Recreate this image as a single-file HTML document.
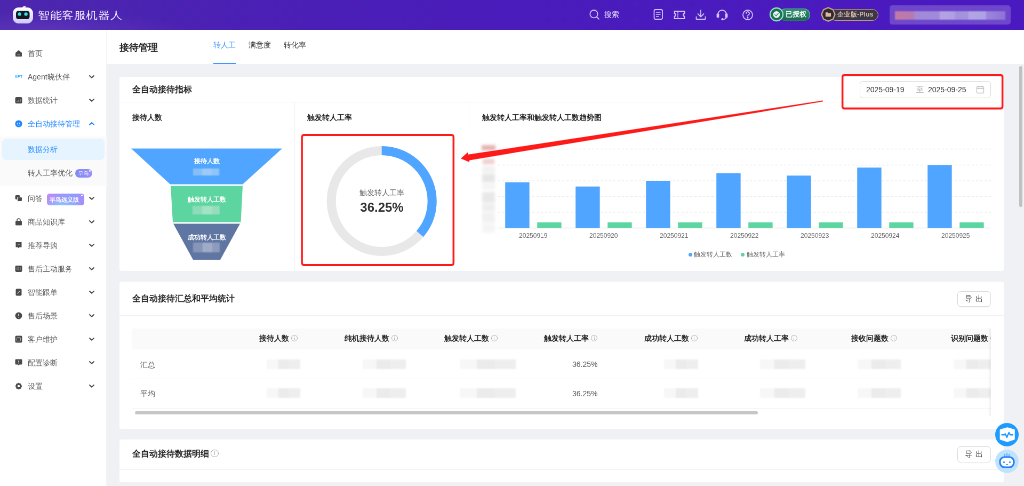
<!DOCTYPE html>
<html><head><meta charset="utf-8">
<style>
*{box-sizing:border-box;margin:0;padding:0}
html,body{width:1024px;height:486px;overflow:hidden;background:#f0f1f5;font-family:"Liberation Sans",sans-serif}
#root{position:absolute;left:0;top:0;width:1920px;height:912px;transform:scale(0.533333);transform-origin:0 0;background:#f0f1f5;overflow:hidden;will-change:transform}
.abs{position:absolute}
.hdr{left:0;top:0;width:1920px;height:56px;background:radial-gradient(ellipse 260px 36px at 90px 58px,rgba(130,90,210,0.28),rgba(130,90,210,0) 100%),linear-gradient(90deg,#4c27ad 0%,#4a20b5 25%,#4a1cbb 50%,#4a19c0 100%)}
.side{left:0;top:56px;width:200px;height:856px;background:#fff;border-right:1.5px solid #f3f4f7}
.sub{left:200px;top:56px;width:1720px;height:64px;background:#fff}
.card{background:#fff;border-radius:4px}
.mi{position:absolute;left:0;width:200px;height:40px;font-size:14px;color:#595959;line-height:40px}
.mi .tx{position:absolute;left:52px;top:0;white-space:nowrap}
.mi .ic{position:absolute;left:28px;top:13px;width:14px;height:14px;background:#555;border-radius:3px}
.mi .chev{position:absolute;left:166px;top:15px;width:8px;height:8px;border-right:2px solid #666;border-bottom:2px solid #666;transform:rotate(45deg)}
.mtx{position:absolute;font-size:14px;line-height:40px;white-space:nowrap}
.badge{background:linear-gradient(90deg,#7b8cff,#b07cf5);color:#fff;border-radius:7px;text-align:center;white-space:nowrap;font-weight:bold}
.btn{border:1px solid #d9d9d9;border-radius:6px;background:#fff;font-size:14px;color:#262626;font-weight:500;letter-spacing:1px;text-align:center;line-height:26px;box-shadow:0 2px 0 rgba(0,0,0,0.02)}
.th{font-size:14px;line-height:22px;color:#262626;font-weight:bold;text-align:right;white-space:nowrap}
.info{display:inline-block;position:relative;width:12px;height:12px;border:1.1px solid #b0b0b0;border-radius:50%;margin-left:4px;vertical-align:-1px}
.info:before{content:"";position:absolute;left:50%;margin-left:-0.6px;top:18%;width:1.2px;height:1.2px;background:#b0b0b0}
.info:after{content:"";position:absolute;left:50%;margin-left:-0.6px;top:38%;width:1.2px;height:40%;background:#b0b0b0}
.mos{position:absolute;height:18px;filter:blur(1.5px)}
.mos i{position:absolute;top:0;height:18px}
.plus{position:absolute;right:3px;top:2px;width:3px;height:3px;background:#fff;border-radius:50%}
.t16{font-size:16px;font-weight:bold;color:#262626}
.t14b{font-size:14px;font-weight:bold;color:#262626}
</style></head><body>
<div id="root">
  <!-- header -->
  <div class="abs hdr">
    <svg class="abs" style="left:0;top:0" width="240" height="56" viewBox="0 0 240 56">
      <defs><linearGradient id="lg1" x1="0" y1="0" x2="0" y2="1"><stop offset="0" stop-color="#ffffff"/><stop offset="1" stop-color="#cfc8ff"/></linearGradient></defs>
      <path d="M41 14.5 Q45 9.5 49 12 Q47 13.5 47 15 Z" fill="#ffe8ee"/>
      <rect x="24" y="14" width="38" height="30" rx="11" fill="url(#lg1)"/>
      <rect x="30" y="20.5" width="25.5" height="15.5" rx="4.5" fill="#17171f"/>
      <circle cx="36.6" cy="26.4" r="3.2" fill="#2ee6e6"/>
      <circle cx="48.6" cy="26.4" r="3.2" fill="#2ee6e6"/>
    </svg>
    <div class="abs" style="left:71px;top:13px;font-size:22px;line-height:30px;color:#f1ecff;letter-spacing:0.6px;white-space:nowrap;font-weight:300;transform:scaleY(0.86);transform-origin:0 25px">智能客服机器人</div>
    <svg class="abs" style="left:1100px;top:14px" width="320" height="30" viewBox="1100 14 320 30" fill="none" stroke="#d2c4f7" stroke-width="1.8" stroke-linecap="round" stroke-linejoin="round">
      <circle cx="1113.5" cy="26.2" r="7.2"/>
      <path d="M1118.8 31.5 L1123 35.8"/>
      <rect x="1226.5" y="18" width="15.5" height="18" rx="2.5"/>
      <path d="M1230.5 23 H1238 M1230.5 27 H1238 M1230.5 31 H1235" stroke-width="1.5"/>
      <path d="M1264.5 21 H1283.5 V25.5 A2.5 2.5 0 0 0 1283.5 30.5 V35 H1264.5 V30.5 A2.5 2.5 0 0 0 1264.5 25.5 Z"/>
      <path d="M1271 22.5 V33.5" stroke-width="1.5" stroke-dasharray="2 1.5"/>
      <path d="M1314 19 V31 M1308.5 26 L1314 31.5 L1319.5 26 M1305.5 31.5 V36 H1322.5 V31.5"/>
      <path d="M1346 31 V27 A8 8 0 0 1 1362 27 V31 M1344.5 26.5 H1347.5 V32 H1344.5 Z M1360.5 26.5 H1363.5 V32 H1360.5 Z M1362 32 Q1362 36 1355 36.2" />
      <circle cx="1354.5" cy="36.2" r="1.2" fill="#d2c4f7"/>
      <circle cx="1402" cy="28" r="9"/>
      <path d="M1399 25 A3 3 0 1 1 1403 28 Q1402 28.7 1402 30.5"/>
      <circle cx="1402" cy="33.2" r="0.6" fill="#d2c4f7"/>
    </svg>
    <div class="abs" style="left:1133px;top:17px;font-size:14px;line-height:20px;color:#eee8ff;font-weight:500">搜索</div>
    <!-- licensed badge -->
    <div class="abs" style="left:1461px;top:15.5px;width:58px;height:23px;border-radius:12px;background:linear-gradient(180deg,#2f8f70,#1c6650);border:1.5px solid #5fc59c;border-bottom-color:#2a7d62"></div>
    <svg class="abs" style="left:1442px;top:13px" width="28" height="28" viewBox="0 0 28 28">
      <circle cx="14" cy="14" r="12" fill="#1f6e56" stroke="#8fe3bf" stroke-width="2.4"/>
      <circle cx="14" cy="14.3" r="6.3" fill="#e6f5ee"/>
      <path d="M10.8 14.5 L13.2 16.6 L17.3 12.2" fill="none" stroke="#2f8f70" stroke-width="1.6" stroke-linecap="round"/>
    </svg>
    <div class="abs" style="left:1473px;top:17px;font-size:12.5px;line-height:20px;color:#f2fff8;font-weight:bold;white-space:nowrap">已授权</div>
    <!-- enterprise badge -->
    <div class="abs" style="left:1556px;top:16.5px;width:91px;height:22px;border-radius:11px;background:#3a3746;border:1.5px solid #c79a7e"></div>
    <svg class="abs" style="left:1539px;top:13px" width="28" height="28" viewBox="0 0 30 30">
      <path d="M15 1.5 L24.5 5.5 L28.5 15 L24.5 24.5 L15 28.5 L5.5 24.5 L1.5 15 L5.5 5.5 Z" fill="#2c2a33" stroke="#caa084" stroke-width="2.6"/>
      <path d="M9.5 11 H14 L15 12.2 H20.5 V19.5 H9.5 Z" fill="#e4b79d"/>
    </svg>
    <div class="abs" style="left:1570px;top:17px;font-size:12px;line-height:20px;color:#d9b9a2;font-weight:bold;white-space:nowrap;letter-spacing:0.3px">企业版-Plus</div>
    <!-- user -->
    <div class="abs" style="left:1668px;top:10px;width:227px;height:35.5px;border-radius:5px;background:rgba(255,255,255,0.2)"></div>
    <div class="abs" style="left:1678px;top:20.5px;width:207px;height:16px;background:linear-gradient(90deg,#c17aa6 0%,#b47ab0 17%,#a48ad8 18%,#a08adb 40%,#b5a3e3 41%,#ae9fe3 54%,#a491dc 55%,#a393dd 66%,#b0a6e6 67%,#aca2e5 82%,#9b86db 83%,#8d73d6 100%);filter:blur(1.2px)"></div>
  </div>
  <!-- sidebar -->
  <div class="abs side"></div>
  <div class="abs" style="left:0;top:256px;width:200px;height:92px;background:#fafafa"></div>
  <div class="abs" style="left:4px;top:260px;width:192px;height:40px;border-radius:8px;background:#e6f4ff"></div>
  <svg class="abs" style="left:28px;top:93px" width="14" height="14" viewBox="0 0 14 14"><path d="M1 6 L7 1 L13 6 V12 Q13 13 12 13 H2 Q1 13 1 12 Z" fill="#4a4a4a"/><rect x="4.5" y="9" width="5" height="1.6" fill="#8a8a8a"/></svg>
  <div class="abs mtx" style="left:52px;top:80px;color:#595959">首页</div>
  <svg class="abs" style="left:28px;top:137px" width="14" height="14" viewBox="0 0 14 14"><text x="-0.5" y="9.5" font-size="7.5" font-weight="bold" fill="#20a8ff" font-family="Liberation Sans" letter-spacing="0.2">XPT</text></svg>
  <div class="abs mtx" style="left:52px;top:124px;color:#595959">Agent晓伙伴</div>
  <svg class="abs" style="left:166px;top:140px" width="12" height="8" viewBox="0 0 12 8"><path d="M2 2 L6 5.8 L10 2" fill="none" stroke="#4a4a4a" stroke-width="2" stroke-linecap="round" stroke-linejoin="round"/></svg>
  <svg class="abs" style="left:28px;top:181px" width="14" height="14" viewBox="0 0 14 14"><rect x="0.5" y="1" width="13" height="12" rx="2.5" fill="#4a4a4a"/><path d="M4 10 V8 M7 10 V6.5 M10 10 V5" stroke="#9a9a9a" stroke-width="1.3"/></svg>
  <div class="abs mtx" style="left:52px;top:168px;color:#595959">数据统计</div>
  <svg class="abs" style="left:166px;top:184px" width="12" height="8" viewBox="0 0 12 8"><path d="M2 2 L6 5.8 L10 2" fill="none" stroke="#4a4a4a" stroke-width="2" stroke-linecap="round" stroke-linejoin="round"/></svg>
  <svg class="abs" style="left:28px;top:225px" width="14" height="14" viewBox="0 0 14 14"><circle cx="7" cy="7" r="6.6" fill="#1f86ff"/><circle cx="5" cy="6" r="1" fill="#fff"/><circle cx="9" cy="6" r="1" fill="#fff"/><path d="M4.5 9 Q7 10.8 9.5 9" stroke="#fff" stroke-width="1" fill="none"/></svg>
  <div class="abs mtx" style="left:52px;top:212px;color:#1f86ff">全自动接待管理</div>
  <svg class="abs" style="left:166px;top:228px" width="12" height="8" viewBox="0 0 12 8"><path d="M2 5.8 L6 2 L10 5.8" fill="none" stroke="#1f86ff" stroke-width="2" stroke-linecap="round" stroke-linejoin="round"/></svg>
  <svg class="abs" style="left:28px;top:365px" width="14" height="14" viewBox="0 0 14 14"><rect x="0.5" y="1" width="9" height="8" rx="2" fill="#4a4a4a"/><rect x="4.5" y="4.5" width="9" height="8" rx="2" fill="#4a4a4a" stroke="#fff" stroke-width="1"/></svg>
  <div class="abs mtx" style="left:52px;top:352px;color:#595959">问答</div>
  <svg class="abs" style="left:166px;top:368px" width="12" height="8" viewBox="0 0 12 8"><path d="M2 2 L6 5.8 L10 2" fill="none" stroke="#4a4a4a" stroke-width="2" stroke-linecap="round" stroke-linejoin="round"/></svg>
  <svg class="abs" style="left:28px;top:409px" width="14" height="14" viewBox="0 0 14 14"><rect x="1" y="5" width="12" height="8.5" rx="1.5" fill="#4a4a4a"/><path d="M4 6 V4 A3 3 0 0 1 10 4 V6" stroke="#4a4a4a" stroke-width="1.6" fill="none"/></svg>
  <div class="abs mtx" style="left:52px;top:396px;color:#595959">商品知识库</div>
  <svg class="abs" style="left:166px;top:412px" width="12" height="8" viewBox="0 0 12 8"><path d="M2 2 L6 5.8 L10 2" fill="none" stroke="#4a4a4a" stroke-width="2" stroke-linecap="round" stroke-linejoin="round"/></svg>
  <svg class="abs" style="left:28px;top:453px" width="14" height="14" viewBox="0 0 14 14"><path d="M1.5 1 H12.5 V10.5 H8.5 L7 12.5 L5.5 10.5 H1.5 Z" fill="#4a4a4a"/><path d="M4.5 4.5 Q7 7.5 9.5 4.5" stroke="#aaa" stroke-width="1" fill="none"/></svg>
  <div class="abs mtx" style="left:52px;top:440px;color:#595959">推荐导购</div>
  <svg class="abs" style="left:166px;top:456px" width="12" height="8" viewBox="0 0 12 8"><path d="M2 2 L6 5.8 L10 2" fill="none" stroke="#4a4a4a" stroke-width="2" stroke-linecap="round" stroke-linejoin="round"/></svg>
  <svg class="abs" style="left:28px;top:497px" width="14" height="14" viewBox="0 0 14 14"><rect x="0.5" y="1" width="13" height="12" rx="2" fill="#4a4a4a"/><path d="M4 4 V10 M7 4 V10 M10 4 V10" stroke="#9a9a9a" stroke-width="1"/></svg>
  <div class="abs mtx" style="left:52px;top:484px;color:#595959">售后主动服务</div>
  <svg class="abs" style="left:166px;top:500px" width="12" height="8" viewBox="0 0 12 8"><path d="M2 2 L6 5.8 L10 2" fill="none" stroke="#4a4a4a" stroke-width="2" stroke-linecap="round" stroke-linejoin="round"/></svg>
  <svg class="abs" style="left:28px;top:541px" width="14" height="14" viewBox="0 0 14 14"><rect x="1.5" y="0.5" width="11" height="13" rx="2" fill="#4a4a4a"/><path d="M4.5 9.5 L9.5 4.5" stroke="#bbb" stroke-width="1.4"/></svg>
  <div class="abs mtx" style="left:52px;top:528px;color:#595959">智能跟单</div>
  <svg class="abs" style="left:166px;top:544px" width="12" height="8" viewBox="0 0 12 8"><path d="M2 2 L6 5.8 L10 2" fill="none" stroke="#4a4a4a" stroke-width="2" stroke-linecap="round" stroke-linejoin="round"/></svg>
  <svg class="abs" style="left:28px;top:585px" width="14" height="14" viewBox="0 0 14 14"><circle cx="7" cy="7" r="6.5" fill="#4a4a4a"/><path d="M7 3.5 V8 M7 9.5 V10.5" stroke="#ddd" stroke-width="1.6"/></svg>
  <div class="abs mtx" style="left:52px;top:572px;color:#595959">售后场景</div>
  <svg class="abs" style="left:166px;top:588px" width="12" height="8" viewBox="0 0 12 8"><path d="M2 2 L6 5.8 L10 2" fill="none" stroke="#4a4a4a" stroke-width="2" stroke-linecap="round" stroke-linejoin="round"/></svg>
  <svg class="abs" style="left:28px;top:629px" width="14" height="14" viewBox="0 0 14 14"><rect x="0.5" y="0.5" width="13" height="13" rx="2" fill="#4a4a4a"/><rect x="3.5" y="3.5" width="7" height="7" rx="1.5" fill="none" stroke="#aaa" stroke-width="1"/></svg>
  <div class="abs mtx" style="left:52px;top:616px;color:#595959">客户维护</div>
  <svg class="abs" style="left:166px;top:632px" width="12" height="8" viewBox="0 0 12 8"><path d="M2 2 L6 5.8 L10 2" fill="none" stroke="#4a4a4a" stroke-width="2" stroke-linecap="round" stroke-linejoin="round"/></svg>
  <svg class="abs" style="left:28px;top:673px" width="14" height="14" viewBox="0 0 14 14"><path d="M0.5 2 Q0.5 0.5 2 0.5 H12 Q13.5 0.5 13.5 2 V9 Q13.5 10.5 12 10.5 H8.5 L7 12.5 L5.5 10.5 H2 Q0.5 10.5 0.5 9 Z" fill="#4a4a4a"/><path d="M7 3 V6.5 M7 7.8 V8.6" stroke="#ddd" stroke-width="1.5"/></svg>
  <div class="abs mtx" style="left:52px;top:660px;color:#595959">配置诊断</div>
  <svg class="abs" style="left:166px;top:676px" width="12" height="8" viewBox="0 0 12 8"><path d="M2 2 L6 5.8 L10 2" fill="none" stroke="#4a4a4a" stroke-width="2" stroke-linecap="round" stroke-linejoin="round"/></svg>
  <svg class="abs" style="left:28px;top:717px" width="14" height="14" viewBox="0 0 14 14"><path d="M7 0.5 L9 2 L11.6 2.4 L12 5 L13.5 7 L12 9 L11.6 11.6 L9 12 L7 13.5 L5 12 L2.4 11.6 L2 9 L0.5 7 L2 5 L2.4 2.4 L5 2 Z" fill="#4a4a4a"/><circle cx="7" cy="7" r="2.3" fill="#fff"/></svg>
  <div class="abs mtx" style="left:52px;top:704px;color:#595959">设置</div>
  <svg class="abs" style="left:166px;top:720px" width="12" height="8" viewBox="0 0 12 8"><path d="M2 2 L6 5.8 L10 2" fill="none" stroke="#4a4a4a" stroke-width="2" stroke-linecap="round" stroke-linejoin="round"/></svg>
  <div class="abs mtx" style="left:52px;top:260px;color:#1f86ff">数据分析</div>
  <div class="abs mtx" style="left:52px;top:304px;color:#595959">转人工率优化</div>
  <div class="abs badge" style="left:140.5px;top:317px;width:32px;height:16px;font-size:8.5px;line-height:16px;border-radius:8px;background:linear-gradient(90deg,#7d8bf6,#9d8ef7);font-weight:normal;letter-spacing:0.5px">早鸟<i class="plus"></i></div>
  <div class="abs badge" style="left:88px;top:363px;width:70px;height:22px;font-size:11px;line-height:22px;border-radius:5px;background:radial-gradient(ellipse 40px 14px at 28px 22px,rgba(140,200,255,0.9),rgba(140,200,255,0)),linear-gradient(100deg,#c08af6 0%,#9a98fb 40%,#8f9cfb 65%,#a98cf6 100%);font-weight:bold;padding-right:6px">早鸟远义版<i class="plus"></i></div>
  <!-- subheader -->
  <div class="abs sub"></div>
  <div class="abs" style="left:224px;top:77px;font-size:18px;font-weight:bold;color:#262626;line-height:24px">接待管理</div>
  <div class="abs" style="left:400px;top:73px;font-size:14px;color:#4096ff;line-height:22px">转人工</div>
  <div class="abs" style="left:466px;top:73px;font-size:14px;color:#333;line-height:22px">满意度</div>
  <div class="abs" style="left:532px;top:73px;font-size:14px;color:#333;line-height:22px">转化率</div>
  <div class="abs" style="left:400px;top:118px;width:42px;height:2px;background:#4096ff"></div>

  <!-- card 1 -->
  <div class="abs card" style="left:224px;top:144px;width:1658px;height:364px"></div>
  <div class="abs" style="left:224px;top:191px;width:1658px;height:1px;background:#f0f0f0"></div>
  <div class="abs t16" style="left:248px;top:157px;line-height:22px">全自动接待指标</div>

  <!-- card1 content -->
  <div class="abs" style="left:1612px;top:152px;width:246px;height:32px;border:1px solid #d9d9d9;border-radius:6px;background:#fff"></div>
  <div class="abs" style="left:1624px;top:157px;font-size:14px;line-height:22px;color:#333;white-space:nowrap">2025-09-19</div>
  <div class="abs" style="left:1718px;top:157px;font-size:14px;line-height:22px;color:#aaa;white-space:nowrap">至</div>
  <div class="abs" style="left:1740px;top:157px;font-size:14px;line-height:22px;color:#333;white-space:nowrap">2025-09-25</div>
  <svg class="abs" style="left:1830px;top:160px" width="16" height="16" viewBox="0 0 16 16" fill="none" stroke="#bfbfbf" stroke-width="1.3"><rect x="1.5" y="2.5" width="13" height="12" rx="1"/><path d="M1.5 6 H14.5 M5 1 V4 M11 1 V4"/></svg>
  <div class="abs" style="left:552px;top:192px;width:1px;height:316px;background:#f0f0f0"></div>
  <div class="abs" style="left:879px;top:192px;width:1px;height:56px;background:#f0f0f0"></div>
  <div class="abs t14b" style="left:248px;top:209px;line-height:22px">接待人数</div>
  <div class="abs t14b" style="left:576px;top:209px;line-height:22px">触发转人工率</div>
  <div class="abs t14b" style="left:904px;top:209px;line-height:22px">触发转人工率和触发转人工数趋势图</div>
  <!-- funnel -->
  <svg class="abs" style="left:0;top:0" width="900" height="512" viewBox="0 0 900 512">
    <defs><filter id="bl" x="-50%" y="-50%" width="200%" height="200%"><feGaussianBlur stdDeviation="1.2"/></filter></defs>
    <path d="M246 278.5 H529 L455 345.5 H319 Z" fill="#4fa5ff"/>
    <path d="M320 348.5 H455 L451.5 416.5 H324 Z" fill="#5cd5a0"/>
    <path d="M325 419.5 H450 L413 487 H362 Z" fill="#5f76a3"/>
    <g filter="url(#bl)">
      <rect x="362" y="316" width="17" height="13" fill="#86bff8"/>
      <rect x="379" y="316" width="18" height="13" fill="#9ccbf8"/>
      <rect x="397" y="316" width="14" height="13" fill="#8fc4f8"/>
      <rect x="361" y="386" width="18" height="16" fill="#8ddbb8"/>
      <rect x="379" y="386" width="19" height="16" fill="#a3e2c5"/>
      <rect x="398" y="386" width="14" height="16" fill="#95ddbc"/>
      <rect x="362" y="455" width="18" height="18" fill="#8796b8"/>
      <rect x="380" y="455" width="18" height="18" fill="#a0abc8"/>
      <rect x="398" y="455" width="14" height="18" fill="#8e9bbb"/>
    </g>
    <!-- donut -->
    <circle cx="715.7" cy="377" r="94.5" fill="none" stroke="#e8e8e8" stroke-width="17"/>
    <circle cx="715.7" cy="377" r="94.5" fill="none" stroke="#4fa5ff" stroke-width="17" stroke-dasharray="215.2 1000" transform="rotate(-90 715.7 377)"/>
  </svg>
  <div class="abs" style="left:300px;top:292px;width:175px;text-align:center;font-size:12px;line-height:20px;color:#fff;font-weight:bold">接待人数</div>
  <div class="abs" style="left:300px;top:364px;width:175px;text-align:center;font-size:12px;line-height:20px;color:#fff;font-weight:bold">触发转人工数</div>
  <div class="abs" style="left:300px;top:435px;width:175px;text-align:center;font-size:12px;line-height:20px;color:#fff;font-weight:bold">成功转人工数</div>
  <div class="abs" style="left:616px;top:350px;width:200px;text-align:center;font-size:14px;line-height:22px;color:#666">触发转人工率</div>
  <div class="abs" style="left:616px;top:373px;width:200px;text-align:center;font-size:24px;line-height:32px;color:#333;font-weight:bold">36.25%</div>
  <!-- bar chart -->
  <svg class="abs" style="left:880px;top:240px" width="1000" height="260" viewBox="880 240 1000 260">
    <defs><filter id="bl2" x="-50%" y="-50%" width="200%" height="200%"><feGaussianBlur stdDeviation="2.5"/></filter></defs>
    <g stroke="#ebebeb" stroke-width="1.3" stroke-dasharray="4 4">
      <path d="M934 279.5 H1858 M934 309.5 H1858 M934 339 H1858 M934 368.5 H1858 M934 398 H1858"/>
    </g>
    <path d="M934 427.5 H1858" stroke="#e6e6e6" stroke-width="1.5"/>
    <g filter="url(#bl2)">
      <rect x="903" y="272" width="26" height="10" fill="#e3b3b3"/>
      <rect x="905" y="298" width="22" height="10" fill="#f0d0d0"/>
      <rect x="904" y="312" width="24" height="12" fill="#f1f1f1"/>
      <rect x="904" y="326" width="24" height="16" fill="#e6e6e6"/>
      <rect x="904" y="344" width="24" height="12" fill="#f4f4f4"/>
      <rect x="904" y="360" width="24" height="20" fill="#e8e8e8"/>
      <rect x="904" y="382" width="24" height="14" fill="#eeeeee"/>
      <rect x="904" y="398" width="24" height="20" fill="#f1f1f1"/>
      <rect x="904" y="420" width="24" height="16" fill="#f4f4f4"/>
    </g>
    <rect x="947.25" y="341.8" width="45.4" height="85.70" fill="#4fa5ff"/>
    <rect x="1007.25" y="417" width="45.4" height="10.5" fill="#5cd5a0"/>
    <rect x="1079.25" y="349.7" width="45.4" height="77.80" fill="#4fa5ff"/>
    <rect x="1139.25" y="417" width="45.4" height="10.5" fill="#5cd5a0"/>
    <rect x="1211.25" y="339" width="45.4" height="88.50" fill="#4fa5ff"/>
    <rect x="1271.25" y="417" width="45.4" height="10.5" fill="#5cd5a0"/>
    <rect x="1343.25" y="324.75" width="45.4" height="102.75" fill="#4fa5ff"/>
    <rect x="1403.25" y="417" width="45.4" height="10.5" fill="#5cd5a0"/>
    <rect x="1475.25" y="329.25" width="45.4" height="98.25" fill="#4fa5ff"/>
    <rect x="1535.25" y="417" width="45.4" height="10.5" fill="#5cd5a0"/>
    <rect x="1607.25" y="314.25" width="45.4" height="113.25" fill="#4fa5ff"/>
    <rect x="1667.25" y="417" width="45.4" height="10.5" fill="#5cd5a0"/>
    <rect x="1739.25" y="309.4" width="45.4" height="118.10" fill="#4fa5ff"/>
    <rect x="1799.25" y="417" width="45.4" height="10.5" fill="#5cd5a0"/>
  </svg>
  <div class="abs" style="left:939.75px;top:431.5px;width:120px;text-align:center;font-size:12px;line-height:20px;color:#666">20250919</div>
  <div class="abs" style="left:1071.75px;top:431.5px;width:120px;text-align:center;font-size:12px;line-height:20px;color:#666">20250920</div>
  <div class="abs" style="left:1203.75px;top:431.5px;width:120px;text-align:center;font-size:12px;line-height:20px;color:#666">20250921</div>
  <div class="abs" style="left:1335.75px;top:431.5px;width:120px;text-align:center;font-size:12px;line-height:20px;color:#666">20250922</div>
  <div class="abs" style="left:1467.75px;top:431.5px;width:120px;text-align:center;font-size:12px;line-height:20px;color:#666">20250923</div>
  <div class="abs" style="left:1599.75px;top:431.5px;width:120px;text-align:center;font-size:12px;line-height:20px;color:#666">20250924</div>
  <div class="abs" style="left:1731.75px;top:431.5px;width:120px;text-align:center;font-size:12px;line-height:20px;color:#666">20250925</div>
  <div class="abs" style="left:1290.5px;top:473.5px;width:7px;height:7px;border-radius:50%;background:#4fa5ff"></div>
  <div class="abs" style="left:1301px;top:467px;font-size:12px;line-height:20px;color:#666;white-space:nowrap">触发转人工数</div>
  <div class="abs" style="left:1389px;top:473.5px;width:7px;height:7px;border-radius:50%;background:#5cd5a0"></div>
  <div class="abs" style="left:1400px;top:467px;font-size:12px;line-height:20px;color:#666;white-space:nowrap">触发转人工率</div>

  <!-- card 2 -->
  <div class="abs card" style="left:224px;top:528px;width:1658px;height:276px"></div>
  <div class="abs" style="left:224px;top:591px;width:1658px;height:1px;background:#f0f0f0"></div>
  <div class="abs t16" style="left:248px;top:549px;line-height:22px">全自动接待汇总和平均统计</div>

  <!-- card2 content -->
  <div class="abs btn" style="left:1795px;top:546px;width:63px;height:28.5px">导 出</div>
  <div class="abs" style="left:248px;top:616px;width:1610px;height:39px;background:#fafafa"></div>
  <div class="abs" style="left:248px;top:710px;width:1610px;height:1px;background:#f0f0f0"></div>
  <div class="abs" style="left:248px;top:765px;width:1610px;height:1px;background:#f0f0f0"></div>
  <div class="abs" style="left:263px;top:672.5px;font-size:14px;line-height:22px;color:#595959">汇总</div>
  <div class="abs" style="left:263px;top:727px;font-size:14px;line-height:22px;color:#595959">平均</div>
  <div class="abs" style="left:253px;top:771px;width:1168px;height:6px;border-radius:3px;background:#c6c6c6"></div>
  <div class="abs" style="left:248px;top:616px;width:1610px;height:150px;overflow:hidden">
    <div class="abs th" style="top:7px;left:10.3px;width:300px">接待人数<span class="info"></span></div>
    <div class="abs th" style="top:7px;left:197.6px;width:300px">纯机接待人数<span class="info"></span></div>
    <div class="abs th" style="top:7px;left:384.9px;width:300px">触发转人工数<span class="info"></span></div>
    <div class="abs th" style="top:7px;left:572.2px;width:300px">触发转人工率<span class="info"></span></div>
    <div class="abs th" style="top:7px;left:759.5px;width:300px">成功转人工数<span class="info"></span></div>
    <div class="abs th" style="top:7px;left:946.8px;width:300px">成功转人工率<span class="info"></span></div>
    <div class="abs th" style="top:7px;left:1134.1px;width:300px">接收问题数<span class="info"></span></div>
    <div class="abs th" style="top:7px;left:1321.4px;width:300px">识别问题数<span class="info"></span></div>
    <div class="abs mos" style="left:252px;top:58px;width:71px"><i style="left:0;width:22px;background:#f7f7f7"></i><i style="left:22px;width:19px;background:#ebebeb"></i><i style="left:41px;width:22px;background:#eeeeee"></i></div>
    <div class="abs mos" style="left:252px;top:112px;width:71px"><i style="left:0;width:22px;background:#f7f7f7"></i><i style="left:22px;width:19px;background:#ebebeb"></i><i style="left:41px;width:22px;background:#eeeeee"></i></div>
    <div class="abs mos" style="left:432px;top:58px;width:89px"><i style="left:0;width:26px;background:#f7f7f7"></i><i style="left:26px;width:26px;background:#ebebeb"></i><i style="left:52px;width:29px;background:#eeeeee"></i></div>
    <div class="abs mos" style="left:432px;top:112px;width:89px"><i style="left:0;width:26px;background:#f7f7f7"></i><i style="left:26px;width:26px;background:#ebebeb"></i><i style="left:52px;width:29px;background:#eeeeee"></i></div>
    <div class="abs mos" style="left:614px;top:58px;width:113px"><i style="left:0;width:32px;background:#f7f7f7"></i><i style="left:32px;width:34px;background:#ebebeb"></i><i style="left:66px;width:39px;background:#eeeeee"></i></div>
    <div class="abs mos" style="left:614px;top:112px;width:113px"><i style="left:0;width:32px;background:#f7f7f7"></i><i style="left:32px;width:34px;background:#ebebeb"></i><i style="left:66px;width:39px;background:#eeeeee"></i></div>
    <div class="abs" style="left:572.5px;top:56px;width:300px;text-align:right;font-size:14px;line-height:22px;color:#595959">36.25%</div>
    <div class="abs" style="left:572.5px;top:110.5px;width:300px;text-align:right;font-size:14px;line-height:22px;color:#595959">36.25%</div>
    <div class="abs mos" style="left:997px;top:58px;width:72px"><i style="left:0;width:22px;background:#f7f7f7"></i><i style="left:22px;width:20px;background:#ebebeb"></i><i style="left:42px;width:22px;background:#eeeeee"></i></div>
    <div class="abs mos" style="left:997px;top:112px;width:72px"><i style="left:0;width:22px;background:#f7f7f7"></i><i style="left:22px;width:20px;background:#ebebeb"></i><i style="left:42px;width:22px;background:#eeeeee"></i></div>
    <div class="abs mos" style="left:1177px;top:58px;width:93px"><i style="left:0;width:27px;background:#f7f7f7"></i><i style="left:27px;width:27px;background:#ebebeb"></i><i style="left:54px;width:31px;background:#eeeeee"></i></div>
    <div class="abs mos" style="left:1177px;top:112px;width:93px"><i style="left:0;width:27px;background:#f7f7f7"></i><i style="left:27px;width:27px;background:#ebebeb"></i><i style="left:54px;width:31px;background:#eeeeee"></i></div>
    <div class="abs mos" style="left:1360px;top:58px;width:89px"><i style="left:0;width:26px;background:#f7f7f7"></i><i style="left:26px;width:26px;background:#ebebeb"></i><i style="left:52px;width:29px;background:#eeeeee"></i></div>
    <div class="abs mos" style="left:1360px;top:112px;width:89px"><i style="left:0;width:26px;background:#f7f7f7"></i><i style="left:26px;width:26px;background:#ebebeb"></i><i style="left:52px;width:29px;background:#eeeeee"></i></div>
    <div class="abs mos" style="left:1540px;top:58px;width:78px"><i style="left:0;width:24px;background:#f7f7f7"></i><i style="left:24px;width:22px;background:#ebebeb"></i><i style="left:45px;width:25px;background:#eeeeee"></i></div>
    <div class="abs mos" style="left:1540px;top:112px;width:78px"><i style="left:0;width:24px;background:#f7f7f7"></i><i style="left:24px;width:22px;background:#ebebeb"></i><i style="left:45px;width:25px;background:#eeeeee"></i></div>
  </div>
  <div class="abs" style="left:1852px;top:616px;width:6px;height:164px;background:linear-gradient(90deg,rgba(0,0,0,0),rgba(0,0,0,0.06))"></div>
  <!-- card 3 -->
  <div class="abs card" style="left:224px;top:824px;width:1658px;height:80px"></div>
  <div class="abs" style="left:224px;top:880px;width:1658px;height:1px;background:#f0f0f0"></div>
  <div class="abs t16" style="left:248px;top:840px;line-height:22px">全自动接待数据明细</div>
  <span class="abs info" style="left:391px;top:842px;width:14.5px;height:14.5px;border-color:#aaa"></span>
  <div class="abs btn" style="left:1795px;top:837px;width:63px;height:30px">导 出</div>
  <!-- floating -->
  <div class="abs" style="left:1866px;top:793px;width:44px;height:44px;border-radius:50%;background:#1d9bff"></div>
  <svg class="abs" style="left:1866px;top:793px" width="44" height="44" viewBox="0 0 44 44"><path d="M22.7 9.5 L35.5 13.2 V30.3 L22.7 34.5 L9.9 30.3 V13.2 Z" fill="#fff" stroke="#fff" stroke-width="2.5" stroke-linejoin="round"/><path d="M12.5 22.3 H17 L19 20.5 L21.8 27 L25.8 18 L28.3 22.3 H33" fill="none" stroke="#1797ff" stroke-width="2.4" stroke-linejoin="round" stroke-linecap="round"/></svg>
  <div class="abs" style="left:1866px;top:843px;width:44px;height:44px;border-radius:50%;background:#bfe3ff"></div>
  <svg class="abs" style="left:1866px;top:843px" width="44" height="44" viewBox="0 0 44 44"><path d="M18 8 V13 M22 7 V13 M26 8 V13" stroke="#4fa3ff" stroke-width="1.7"/><rect x="9" y="14" width="26" height="19" rx="8.5" fill="#fff" stroke="#2180f6" stroke-width="3.2"/><circle cx="16.5" cy="23.5" r="1.6" fill="#2180f6"/><circle cx="27.5" cy="23.5" r="1.6" fill="#2180f6"/><path d="M20.5 28 H23.5" stroke="#2180f6" stroke-width="1.6" stroke-linecap="round"/></svg>
  <!-- scrollbar -->
  <div class="abs" style="left:1910.5px;top:124px;width:6px;height:264px;border-radius:3px;background:#c1c1c1"></div>
</div>
<svg style="position:absolute;left:0;top:0" width="1024" height="486" viewBox="0 0 1024 486">
  <rect x="842.5" y="75" width="160" height="33.5" rx="2" fill="none" stroke="#ff1a1a" stroke-width="1.8"/>
  <rect x="302" y="135" width="151.5" height="130" rx="2" fill="none" stroke="#ff1a1a" stroke-width="1.8"/>
  <path d="M822.8 100.6 L823 101.6 L469.6 160.2 L469 162 L460.8 158.4 L467.8 152.2 L468.2 154.5 Z" fill="#ff1a1a"/>
</svg>
</body></html>
